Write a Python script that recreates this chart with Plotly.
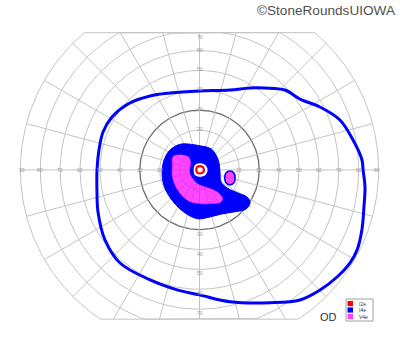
import numpy as np
import plotly.graph_objects as go

# ---------------- data (visual-field degrees) ----------------
# Outer I4e isopter: meridian (deg, counter-clockwise from right) and eccentricity (deg)
i4e_meridian = [0, 3.5, 11, 19.6, 27.6, 35.2, 43.1, 51.4, 58.4, 69.1, 90, 111, 123.8, 137.3,
                148.8, 158.5, 168.7, 180, 191, 202.5, 216.5, 229.5, 245.8, 259.4, 270, 283,
                298, 307.7, 315.1, 322.1, 328.3, 333.1, 339.7, 347.3, 354.1]
i4e_ecc = [82.2, 81.8, 78.6, 74.9, 68.3, 61.8, 58.8, 52.7, 48.4, 43.0, 39.7, 41.4, 44.7, 48.9,
           51.4, 52.1, 51.5, 51.5, 52.5, 55.2, 59.1, 61.5, 60.6, 61.3, 62.8, 68.0,
           75.6, 82.6, 85.5, 87.6, 88.9, 88.8, 87.0, 84.7, 83.6]

# Central I4e scotoma outline (horizontal / vertical eccentricity, deg)
scot_i4e_x = [-8.3, 0.3, 5.8, 8.3, 9.8, 10.3, 10.8, 13.8, 19.3, 23.9, 25.4, 23.4, 17.3, 11.3,
              5.3, -0.3, -4.8, -9.8, -14.3, -17.8, -18.8, -17.8, -15.3, -11.8]
scot_i4e_y = [13.1, 12.1, 10.6, 7.5, 3.5, -1.0, -6.0, -9.0, -11.6, -13.6, -16.6, -19.6, -21.1,
              -22.1, -23.6, -24.6, -23.1, -19.6, -14.6, -8.0, -1.0, 5.0, 9.5, 12.1]

# Central V4e scotoma outline
scot_v4e_x = [-12.3, -5.8, -4.3, -4.8, -2.8, 0.3, 6.3, 10.3, 11.8, 10.3, 5.3, 0.3, -4.8, -8.8,
              -11.8, -13.8, -13.8, -13.8]
scot_v4e_y = [7.5, 7.0, 4.0, -1.0, -5.0, -7.5, -9.5, -12.1, -14.6, -16.6, -17.1, -17.1, -16.1,
              -13.1, -9.0, -3.5, 2.5, 6.0]

# Spared central island (inside the I4e scotoma)
island_x = [4.3, 3.0, 0.3, -2.4, -3.2, -2.4, 0.3, 3.0]
island_y = [0.0, 2.6, 3.6, 2.6, 0.0, -2.8, -3.7, -2.8]

# I2e isopter around fixation
i2e_x = [2.2, 1.6, 0.2, -1.2, -1.6, -1.2, 0.4, 1.8]
i2e_y = [0.2, 1.5, 1.9, 1.5, 0.1, -1.3, -1.8, -1.2]

# Blind spot (V4e)
blind_x = [15.3, 17.3, 17.9, 17.3, 15.3, 13.3, 12.7, 13.3]
blind_y = [-0.5, -1.5, -4.0, -6.5, -7.5, -6.5, -4.0, -1.5]

grid_radii = [10, 20, 30, 40, 50, 60, 70, 80, 90]
meridians = list(range(0, 360, 15))
h_labels = [20, 30, 40, 50, 60, 70, 80, 90]
top_labels = [20, 30, 40, 50, 60, 70]
bottom_labels = [30, 40, 50, 60, 70]
legend_names = ["I2e", "I4e", "V4e"]
legend_colors = ["#ff0000", "#0000ff", "#ff44ff"]

TOP_LIM, BOT_LIM = 69, 75
BLUE = "#0000ff"
MAG = "rgba(255,0,255,0.72)"
FONT = "Liberation Sans, Arial"


def closed(xs, ys):
    return list(xs) + [xs[0]], list(ys) + [ys[0]]


fig = go.Figure()

# ---------------- grid ----------------
th = np.radians(np.arange(0, 361, 1))
for r in grid_radii:
    gx = r * np.cos(th)
    gy = np.clip(r * np.sin(th), -BOT_LIM, TOP_LIM)
    fig.add_trace(go.Scatter(x=gx, y=gy, mode="lines", hoverinfo="skip",
                             line=dict(color="#6e6e6e" if r == 30 else "#c4c4c4",
                                       width=1.3 if r == 30 else 1)))
mx, my = [], []
for a in meridians:
    s = np.sin(np.radians(a))
    L = 90.0
    if s > 1e-9:
        L = min(L, TOP_LIM / s)
    elif s < -1e-9:
        L = min(L, BOT_LIM / -s)
    mx += [0, L * np.cos(np.radians(a)), None]
    my += [0, L * np.sin(np.radians(a)), None]
fig.add_trace(go.Scatter(x=mx, y=my, mode="lines", hoverinfo="skip",
                         line=dict(color="#c4c4c4", width=1)))

# ---------------- central scotoma ----------------
bx, by = closed(scot_i4e_x, scot_i4e_y)
vx, vy = closed(scot_v4e_x[::-1], scot_v4e_y[::-1])
fig.add_trace(go.Scatter(x=bx + [None] + vx, y=by + [None] + vy, mode="lines",
                         fill="toself", fillcolor=BLUE, line=dict(color=BLUE, width=1, shape="spline"),
                         hoverinfo="skip"))
vx2, vy2 = closed(scot_v4e_x, scot_v4e_y)
fig.add_trace(go.Scatter(x=vx2, y=vy2, mode="lines", fill="toself", fillcolor=MAG,
                         line=dict(color="rgba(0,0,0,0)", width=0, shape="spline"), hoverinfo="skip"))
ix, iy = closed(island_x, island_y)
fig.add_trace(go.Scatter(x=ix, y=iy, mode="lines", fill="toself", fillcolor="white",
                         line=dict(color=BLUE, width=1, shape="spline"), hoverinfo="skip"))
rx, ry = closed(i2e_x, i2e_y)
fig.add_trace(go.Scatter(x=rx, y=ry, mode="lines", line=dict(color="#ff0000", width=2.2, shape="spline"),
                         hoverinfo="skip"))
blx, bly = closed(blind_x, blind_y)
fig.add_trace(go.Scatter(x=blx, y=bly, mode="lines", fill="toself", fillcolor=MAG,
                         line=dict(color=BLUE, width=1.6, shape="spline"), hoverinfo="skip"))

# ---------------- outer I4e isopter ----------------
ang = np.radians(i4e_meridian + [i4e_meridian[0]])
ecc = np.array(i4e_ecc + [i4e_ecc[0]])
fig.add_trace(go.Scatter(x=ecc * np.cos(ang), y=ecc * np.sin(ang), mode="lines",
                         line=dict(color=BLUE, width=3, shape="spline", smoothing=1),
                         hoverinfo="skip"))

# ---------------- labels ----------------
ann = []
lab_font = dict(family=FONT, size=5, color="#9a9a9a")
for r in h_labels:
    for sgn in (-1, 1):
        ann.append(dict(x=sgn * r, y=0, text=str(r), showarrow=False, font=lab_font,
                        xanchor="center", yanchor="middle",
                        xshift=(-sgn * 2 if r == 90 else 0)))
for r in top_labels:
    ann.append(dict(x=0, y=min(r, TOP_LIM - 1), text=str(r), showarrow=False, font=lab_font,
                    xanchor="center", yanchor="middle", yshift=(-2 if r == 70 else 1)))
for r in bottom_labels:
    ann.append(dict(x=0, y=-r, text=str(r), showarrow=False, font=lab_font,
                    xanchor="center", yanchor="middle", yshift=-4))

ann.append(dict(xref="paper", yref="paper", x=0.995, y=0.997, xanchor="right", yanchor="top",
                text="©StoneRoundsUIOWA", showarrow=False,
                font=dict(family=FONT, size=13.6, color="#505050")))
ann.append(dict(xref="paper", yref="paper", x=328 / 400, y=1 - 317 / 352, xanchor="center",
                yanchor="middle", text="OD", showarrow=False,
                font=dict(family=FONT, size=11, color="#333333")))

shapes = [dict(type="rect", xref="paper", yref="paper", x0=346 / 400, x1=373 / 400,
               y0=1 - 321 / 352, y1=1 - 299 / 352, line=dict(color="#a0a0a0", width=1),
               fillcolor="white")]
for i, (nm, col) in enumerate(zip(legend_names, legend_colors)):
    yc = 303.5 + i * 6.5
    shapes.append(dict(type="rect", xref="paper", yref="paper", x0=347.5 / 400, x1=353 / 400,
                       y0=1 - (yc + 2.6) / 352, y1=1 - (yc - 2.6) / 352,
                       line=dict(width=0), fillcolor=col))
    ann.append(dict(xref="paper", yref="paper", x=357 / 400, y=1 - yc / 352, xanchor="left",
                    yanchor="middle", text=nm, showarrow=False,
                    font=dict(family=FONT, size=5, color="#333333")))

fig.update_layout(
    width=400, height=352, margin=dict(l=0, r=0, t=0, b=0),
    paper_bgcolor="white", plot_bgcolor="white", showlegend=False,
    xaxis=dict(range=[-100.25, 100.75], visible=False, fixedrange=True),
    yaxis=dict(range=[-91.5, 85.4], visible=False, fixedrange=True),
    annotations=ann, shapes=shapes,
)
fig.write_html("out.html")
